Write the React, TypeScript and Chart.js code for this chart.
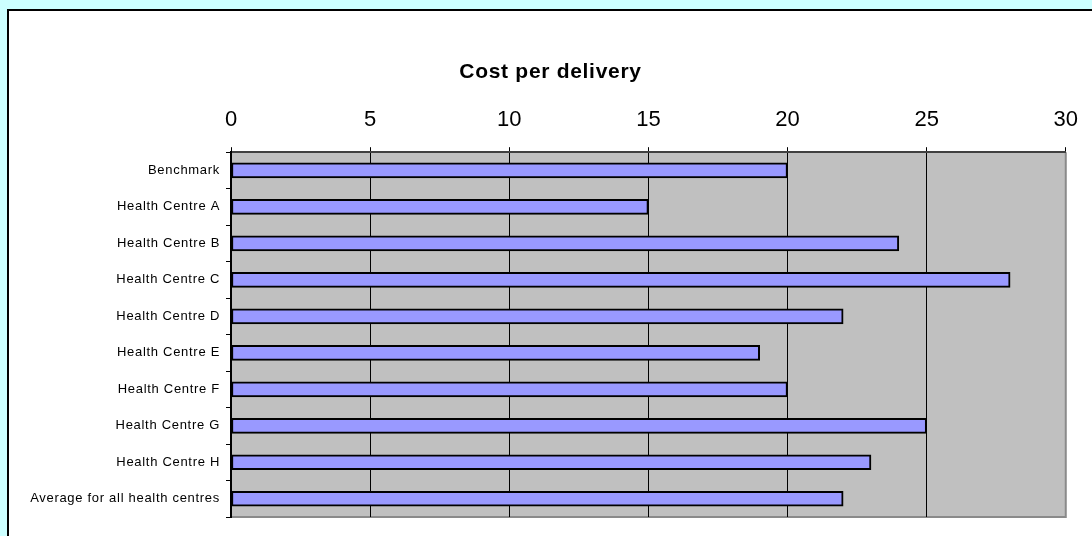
import React, { useEffect, useRef } from "react";
import { Chart, registerables } from "chart.js";

Chart.register(...registerables);

const categories = [
  "Benchmark",
  "Health Centre A",
  "Health Centre B",
  "Health Centre C",
  "Health Centre D",
  "Health Centre E",
  "Health Centre F",
  "Health Centre G",
  "Health Centre H",
  "Average for all health centres",
];
const costValues = [20, 15, 24, 28, 22, 19, 20, 25, 23, 22];
const chartTitle = "Cost per delivery";
const xMin = 0;
const xMax = 30;
const xStep = 5;

const FONT = "'Liberation Sans', Arial, Helvetica, sans-serif";

function withSpacing(obj: any, key: string, spacing: string, dx: number) {
  if (!obj || obj["__patched_" + key]) return;
  const orig = obj[key];
  obj[key] = function (...args: any[]) {
    const ctx = this.ctx;
    ctx.save();
    ctx.letterSpacing = spacing;
    if (dx) ctx.translate(dx, 0);
    const r = orig.apply(this, args);
    ctx.restore();
    return r;
  };
  obj["__patched_" + key] = true;
}

const plotBg = {
  id: "plotBg",
  afterLayout(chart: any) {
    withSpacing(chart.scales.y, "drawLabels", "0.7px", 0);
    withSpacing(chart.titleBlock, "draw", "0.7px", 13);
  },
  beforeDraw(chart: any) {
    const { ctx, chartArea } = chart;
    if (!chartArea) return;
    ctx.save();
    ctx.fillStyle = "#c0c0c0";
    ctx.fillRect(chartArea.left, chartArea.top, chartArea.right - chartArea.left, chartArea.bottom - chartArea.top);
    ctx.strokeStyle = "#8a8a8a";
    ctx.lineWidth = 2;
    ctx.beginPath();
    ctx.moveTo(chartArea.left, chartArea.bottom);
    ctx.lineTo(chartArea.right, chartArea.bottom);
    ctx.lineTo(chartArea.right, chartArea.top);
    ctx.stroke();
    ctx.restore();
  },
};

export default function App() {
  const ref = useRef<HTMLCanvasElement | null>(null);

  useEffect(() => {
    document.body.style.margin = "0";
    document.body.style.background = "#ccffff";
    document.body.style.overflow = "hidden";
    const canvas = ref.current;
    if (!canvas) return;
    const chart = new Chart(canvas, {
      type: "bar",
      data: {
        labels: categories,
        datasets: [
          {
            data: costValues,
            backgroundColor: "#9999ff",
            borderColor: "#000000",
            borderWidth: 2,
            borderSkipped: false,
            barThickness: 15,
          },
        ],
      },
      plugins: [plotBg],
      options: {
        indexAxis: "y",
        animation: false,
        responsive: false,
        maintainAspectRatio: false,
        layout: { padding: { top: 0, right: 26, bottom: 19, left: 0 } },
        plugins: {
          legend: { display: false },
          tooltip: { enabled: false },
          title: {
            display: true,
            text: chartTitle,
            color: "#000",
            font: { family: FONT, size: 21, weight: "bold" },
            padding: { top: 49, bottom: 0 },
          },
        },
        scales: {
          x: {
            position: "top",
            min: xMin,
            max: xMax,
            ticks: {
              stepSize: xStep,
              color: "#000",
              font: { family: FONT, size: 22 },
              padding: 14,
              maxRotation: 0,
            },
            grid: {
              color: (c: any) => (c.tick && c.tick.value === xMax ? "#8a8a8a" : "#000000"),
              lineWidth: 1,
              tickLength: 5,
              tickColor: "#000",
            },
            border: { color: "#404040", width: 2 },
            afterFit: (scale: any) => {
              scale.height = 67;
            },
          },
          y: {
            position: "left",
            ticks: {
              color: "#000",
              font: { family: FONT, size: 13 },
              padding: 6,
            },
            grid: {
              offset: true,
              drawOnChartArea: false,
              drawTicks: true,
              tickLength: 5,
              color: "#000",
            },
            border: { color: "#000", width: 2 },
            afterFit: (scale: any) => {
              scale.width = 222;
            },
          },
        },
      },
    });
    return () => chart.destroy();
  }, []);

  return (
    <div
      style={{
        position: "absolute",
        left: 7,
        top: 9,
        width: 1100,
        height: 540,
        borderLeft: "2px solid #000",
        borderTop: "2px solid #000",
        background: "#fff",
      }}
    >
      <canvas ref={ref} width={1083} height={525} style={{ display: "block" }} />
    </div>
  );
}
